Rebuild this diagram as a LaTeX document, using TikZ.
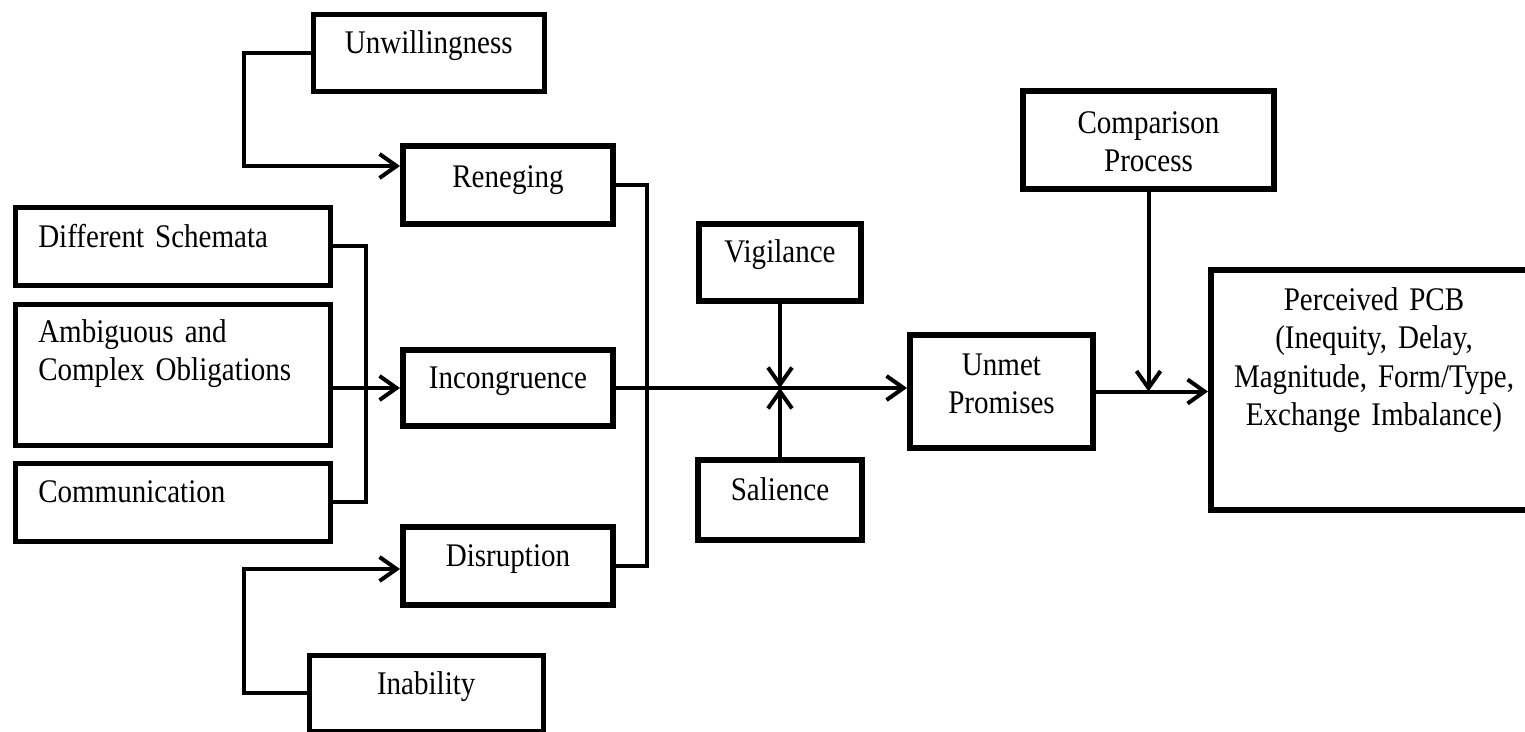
\documentclass[tikz,border=0pt]{standalone}
\usepackage{fontspec}
\setmainfont{Liberation Serif}[FakeStretch=0.88]
\usetikzlibrary{arrows.meta,calc}
\begin{document}
\begin{tikzpicture}[x=1pt,y=-1pt]
\tikzset{
  box/.style={draw, inner sep=0pt, anchor=north west, align=center,
    font=\fontsize{33}{38.5}\selectfont},
  thinbox/.style={box, line width=4.5pt},
  thickbox/.style={box, line width=6pt},
  lbox/.style={inner xsep=23pt, align=left},
  conn/.style={line width=4pt},
  arr/.style={conn, -{Straight Barb[length=17pt,width=24pt,line width=4pt]}},
}
\clip (0,0) rectangle (1525,731);
% boxes
\node[thinbox, text width=231pt, text height=39pt, text depth=38pt] (unw) at (311,12) {Unwillingness};
\node[thickbox, text width=210pt, text height=41pt, text depth=37pt] (ren) at (400,143) {Reneging};
\node[thinbox, lbox, text width=269pt, text height=40pt, text depth=38pt] (ds) at (13,205) {Different Schemata};
\node[thinbox, lbox, text width=269pt, text height=38pt, text depth=103pt] (amb) at (13,302) {Ambiguous and\\Complex Obligations};
\node[thickbox, text width=210pt, text height=38pt, text depth=38pt] (inc) at (400,347) {Incongruence};
\node[thinbox, lbox, text width=269pt, text height=39pt, text depth=39pt] (com) at (13,461) {Communication};
\node[thickbox, text width=210pt, text height=39pt, text depth=39pt] (dis) at (400,524) {Disruption};
\node[thinbox, text width=234pt, text height=39pt, text depth=37pt] (ina) at (307,653) {Inability};
\node[thickbox, text width=162pt, text height=38pt, text depth=39pt] (vig) at (696,221) {Vigilance};
\node[thickbox, text width=164pt, text height=40pt, text depth=40pt] (sal) at (695,457) {Salience};
\node[thickbox, text width=183pt, text height=40pt, text depth=73pt] (unm) at (907,332) {Unmet\\Promises};
\node[thickbox, text width=251pt, text height=42pt, text depth=56pt] (cmp) at (1020,88) {Comparison\\Process};
\node[thickbox, text width=326pt, text height=40pt, text depth=200pt] (pcb) at (1208,267) {Perceived PCB\\(Inequity, Delay,\\Magnitude, Form/Type,\\Exchange Imbalance)};
% junction coordinates
\coordinate (j1) at (244,166);
\coordinate (j2) at (244,569);
\coordinate (busA) at (366,0);
\coordinate (busB) at (647,0);
\coordinate (mj) at (vig.south |- inc.east);
% connectors
\draw[arr] (unw.west) -| (j1) -- (j1 -| ren.west);
\draw[arr] (ina.west) -| (j2) -- (j2 -| dis.west);
\draw[conn] (ds.east) -| (busA |- com.east) -- (com.east);
\draw[arr] (amb.east |- inc.west) -- (inc.west);
\draw[conn] (ren.east) -| (busB |- dis.east) -- (dis.east);
\draw[arr] (inc.east) -- (inc.east -| unm.west);
\draw[arr] (vig.south) -- (mj);
\draw[arr] (sal.north) -- (mj);
\draw[arr] (unm.east) -- (unm.east -| pcb.west);
\draw[arr] (cmp.south) -- (cmp.south |- unm.east);
\end{tikzpicture}
\end{document}
